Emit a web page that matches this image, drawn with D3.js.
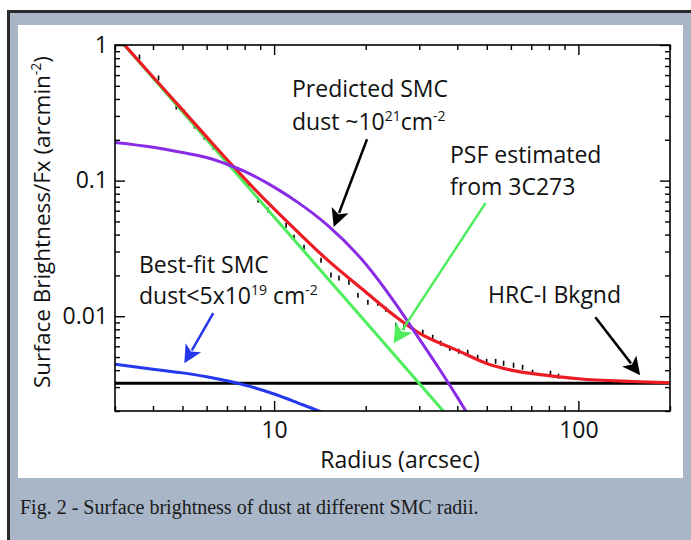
<!DOCTYPE html>
<html><head><meta charset="utf-8">
<script src="https://cdn.jsdelivr.net/npm/d3@7"></script>
<style>body{margin:0;background:#fff}svg{display:block}</style>
</head><body>
<svg id="c" width="691" height="540"></svg>
<script>
// ---- data ----
const modelR = [3, 4, 5, 6, 7, 8, 10, 12, 15, 20, 25, 30, 40, 50, 60, 80, 100, 150, 200];
const modelV = [1.20, 0.581, 0.332, 0.210, 0.143, 0.1035, 0.0618, 0.0415, 0.0259, 0.0151, 0.0100, 0.0075, 0.0056, 0.00448, 0.0040, 0.00365, 0.00346, 0.00330, 0.00323];
const predictedR = [3, 4, 5, 6, 7, 8, 10, 12, 15, 20, 25, 30, 35, 40, 43];
const predictedV = [0.191, 0.176, 0.161, 0.148, 0.132, 0.117, 0.0895, 0.0688, 0.0467, 0.0243, 0.0125, 0.0068, 0.00405, 0.00253, 0.00194];
const psfR = [3, 5, 7, 10, 15, 20, 30, 40];
const psfV = [1.20, 0.322, 0.1353, 0.0540, 0.0190, 0.00907, 0.00319, 0.00152];
const bestR = [3, 4, 5, 6, 7, 8, 10, 12, 14, 15];
const bestV = [0.00442, 0.00407, 0.00382, 0.00358, 0.00334, 0.00311, 0.00267, 0.00229, 0.0020, 0.00187];
const bkgndLevel = 0.0032;
const obsR = [3.61, 4.17, 4.77, 5.07, 5.47, 5.89, 6.31, 7.68, 8.22, 8.86, 9.56, 10.95, 11.63, 12.54, 14.26, 15.38, 16.34, 17.62, 18.86, 20.33, 21.93, 23.29, 25.12, 26.69, 28.77, 30.80, 33.21, 35.28, 37.76, 40.43, 43.26, 46.67, 49.94, 53.45, 56.78, 61.23, 65.54, 70.68, 80.95, 86.01];
const obsV = [0.815, 0.571, 0.349, 0.320, 0.2525, 0.2094, 0.1767, 0.1136, 0.0926, 0.0718, 0.0606, 0.0469, 0.0383, 0.0323, 0.0259, 0.0201, 0.0191, 0.0178, 0.0143, 0.01269, 0.01247, 0.01126, 0.00858, 0.00829, 0.00788, 0.00762, 0.00700, 0.00632, 0.00580, 0.00552, 0.00542, 0.00498, 0.00465, 0.00465, 0.00450, 0.00435, 0.00420, 0.00386, 0.00380, 0.00361];
const xMajor = [10, 100];
const xMinor = [3, 4, 5, 6, 7, 8, 9, 20, 30, 40, 50, 60, 70, 80, 90, 200];
const yMajor = [1, 0.1, 0.01];
const yMinor = [0.002, 0.003, 0.004, 0.005, 0.006, 0.007, 0.008, 0.009, 0.02, 0.03, 0.04, 0.05, 0.06, 0.07, 0.08, 0.09, 0.2, 0.3, 0.4, 0.5, 0.6, 0.7, 0.8, 0.9];

const svg = d3.select("#c");
const W = 691, H = 540;
const L = 115, R = 670, T = 45, B = 411;
const FONT = "'Open Sans', sans-serif";

// background / frame
svg.append("rect").attr("x", 0).attr("y", 0).attr("width", W).attr("height", H).attr("fill", "#fff");
svg.append("rect").attr("x", 7).attr("y", 10).attr("width", W - 7).attr("height", H - 10).attr("fill", "#a8b6c8");
svg.append("path").attr("d", `M8.5,${H} V11.5 H${W}`).attr("fill", "none").attr("stroke", "#2a2a2a").attr("stroke-width", 3);
svg.append("rect").attr("x", 18).attr("y", 25).attr("width", 665).attr("height", 453).attr("fill", "#fff");

const x = d3.scaleLog().domain([3, 200]).range([L, R]);
const y = d3.scaleLog().domain([0.002, 1]).range([B, T]);

svg.append("clipPath").attr("id", "clip").append("rect")
  .attr("x", L).attr("y", T).attr("width", R - L).attr("height", B - T);

const plot = svg.append("g").attr("clip-path", "url(#clip)");

// background line
plot.append("line").attr("x1", L).attr("x2", R).attr("y1", y(bkgndLevel)).attr("y2", y(bkgndLevel))
  .attr("stroke", "#000").attr("stroke-width", 3);

// observed data ticks
plot.selectAll("line.obs").data(obsR).join("line").attr("class", "obs")
  .attr("x1", d => x(d)).attr("x2", d => x(d))
  .attr("y1", (d, i) => y(obsV[i]) - 2.5).attr("y2", (d, i) => y(obsV[i]) + 2.5)
  .attr("stroke", "#000").attr("stroke-width", 1.6);

const line = d3.line().x(d => x(d[0])).y(d => y(d[1])).curve(d3.curveMonotoneX);
function curve(rs, vs, color, w) {
  plot.append("path").datum(rs.map((r, i) => [r, vs[i]]))
    .attr("d", line).attr("fill", "none").attr("stroke", color).attr("stroke-width", w)
    .attr("stroke-linejoin", "round");
}
curve(psfR, psfV, "#4ded5c", 3);
curve(modelR, modelV, "#ec1c24", 3.2);
curve(predictedR, predictedV, "#8a2be6", 3);
curve(bestR, bestV, "#2438ee", 3);

// axes
const ax = svg.append("g").attr("font-family", FONT);
ax.append("rect").attr("x", L).attr("y", T).attr("width", R - L).attr("height", B - T)
  .attr("fill", "none").attr("stroke", "#000").attr("stroke-width", 1.6);

function tickStyle(g) {
  g.select(".domain").remove();
  g.selectAll(".tick line").attr("stroke", "#000").attr("stroke-width", 1.4);
  g.selectAll("text").attr("fill", "#111").attr("font-size", 23).attr("font-family", FONT);
}
// bottom
ax.append("g").attr("transform", `translate(0,${B})`)
  .call(d3.axisBottom(x).tickValues(xMinor).tickSize(-5).tickFormat("")).call(tickStyle);
ax.append("g").attr("transform", `translate(0,${B})`)
  .call(d3.axisBottom(x).tickValues(xMajor).tickSize(-10).tickPadding(11).tickFormat(d3.format("d"))).call(tickStyle);
// top
ax.append("g").attr("transform", `translate(0,${T})`)
  .call(d3.axisTop(x).tickValues(xMinor).tickSize(-5).tickFormat("")).call(tickStyle);
ax.append("g").attr("transform", `translate(0,${T})`)
  .call(d3.axisTop(x).tickValues(xMajor).tickSize(-10).tickFormat("")).call(tickStyle);
// left
ax.append("g").attr("transform", `translate(${L},0)`)
  .call(d3.axisLeft(y).tickValues(yMinor).tickSize(-5).tickFormat("")).call(tickStyle);
ax.append("g").attr("transform", `translate(${L},0)`)
  .call(d3.axisLeft(y).tickValues(yMajor).tickSize(-10).tickPadding(7).tickFormat(d => String(d))).call(tickStyle);
// right
ax.append("g").attr("transform", `translate(${R},0)`)
  .call(d3.axisRight(y).tickValues(yMinor).tickSize(-5).tickFormat("")).call(tickStyle);
ax.append("g").attr("transform", `translate(${R},0)`)
  .call(d3.axisRight(y).tickValues(yMajor).tickSize(-10).tickFormat("")).call(tickStyle);

// axis titles
svg.append("text").attr("x", 400).attr("y", 468).attr("text-anchor", "middle")
  .attr("font-family", FONT).attr("font-size", 23).attr("fill", "#111").text("Radius (arcsec)");
const yt = svg.append("text").attr("transform", "translate(50,222) rotate(-90)").attr("text-anchor", "middle")
  .attr("font-family", FONT).attr("font-size", 22.5).attr("fill", "#111");
yt.append("tspan").text("Surface Brightness/Fx (arcmin");
yt.append("tspan").attr("dy", -9).attr("font-size", 14).text("-2");
yt.append("tspan").attr("dy", 9).text(")");

// caption
svg.append("text").attr("x", 20).attr("y", 514).attr("font-family", "'Liberation Serif', serif")
  .attr("font-size", 20).attr("fill", "#1a1a1a").text("Fig. 2 - Surface brightness of dust at different SMC radii.");

// annotations
function label(px, py, parts) {
  const t = svg.append("text").attr("x", px).attr("y", py).attr("font-family", FONT)
    .attr("font-size", 23).attr("fill", "#111");
  parts.forEach(p => {
    if (typeof p === "string") t.append("tspan").text(p);
    else t.append("tspan").attr("dy", p.dy).attr("font-size", p.fs || 23).text(p.t);
  });
}
label(292, 97, ["Predicted SMC"]);
label(292, 130, ["dust ~10", {t: "21", dy: -9, fs: 14}, {t: "cm", dy: 9}, {t: "-2", dy: -9, fs: 14}]);
label(450, 163, ["PSF estimated"]);
label(450, 195, ["from 3C273"]);
label(488, 303, ["HRC-I Bkgnd"]);
label(139, 273, ["Best-fit SMC"]);
label(139, 304, ["dust<5x10", {t: "19", dy: -9, fs: 14}, {t: " cm", dy: 9}, {t: "-2", dy: -9, fs: 14}]);

// arrows (anchored in data coordinates)
const arrows = [
  {from: [20.2, 0.202], to: [15.7, 0.0455], color: "#000", hl: 18, hw: 9},
  {from: [49.5, 0.0682], to: [24.7, 0.00632], color: "#4ded5c", hl: 19, hw: 10},
  {from: [6.31, 0.01052], to: [5.07, 0.0045], color: "#2438ee", hl: 18, hw: 9},
  {from: [113.7, 0.00984], to: [159.6, 0.00367], color: "#000", hl: 18, hw: 9}
];
arrows.forEach(a => {
  const x1 = x(a.from[0]), y1 = y(a.from[1]), x2 = x(a.to[0]), y2 = y(a.to[1]);
  const dx = x2 - x1, dy = y2 - y1, len = Math.hypot(dx, dy);
  const ux = dx / len, uy = dy / len;
  const bx = x2 - ux * a.hl, by = y2 - uy * a.hl;
  svg.append("line").attr("x1", x1).attr("y1", y1).attr("x2", bx + ux * 3).attr("y2", by + uy * 3)
    .attr("stroke", a.color).attr("stroke-width", 2.5);
  const nx = -uy, ny = ux;
  const notch = 0.25 * a.hl;
  svg.append("path").attr("d",
    `M${x2},${y2} L${bx + nx * a.hw},${by + ny * a.hw} L${bx + ux * notch},${by + uy * notch} L${bx - nx * a.hw},${by - ny * a.hw} Z`)
    .attr("fill", a.color);
});
</script>
</body></html>
